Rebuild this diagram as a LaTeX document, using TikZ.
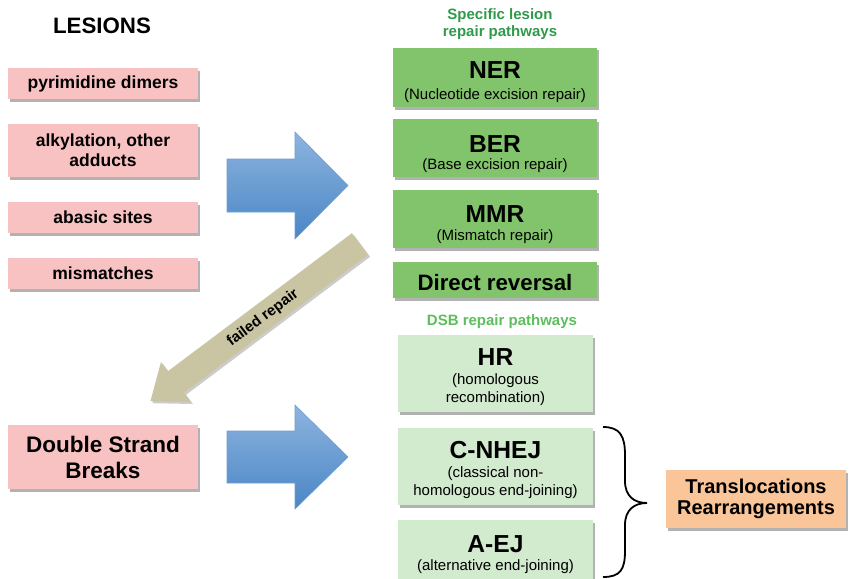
\documentclass[tikz,border=0pt]{standalone}
\usepackage{fontspec}
\setmainfont{Liberation Sans}
\usetikzlibrary{shadows}
\definecolor{lesionpink}{HTML}{F9C2C2}
\definecolor{specgreen}{HTML}{82C46B}
\definecolor{dsbgreen}{HTML}{D2EACE}
\definecolor{transorange}{HTML}{FBC59A}
\definecolor{failkhaki}{HTML}{C9C4A2}
\definecolor{spectext}{HTML}{2F9A4A}
\definecolor{dsbtext}{HTML}{5CBE5C}
\definecolor{arrowtop}{HTML}{8DB4DE}
\definecolor{arrowbot}{HTML}{4A86C6}
\definecolor{arrowedge}{HTML}{6E9FD2}
\begin{document}
\begin{tikzpicture}[x=1pt,y=-1pt,
 shadowed/.style={drop shadow={shadow xshift=2pt,shadow yshift=-2.5pt,opacity=0.3,fill=black}},
 lesion/.style={rectangle, fill=lesionpink, minimum width=190pt, inner sep=0pt, align=center,
   font=\fontsize{17.5}{20}\selectfont\bfseries, shadowed},
 specbox/.style={rectangle, fill=specgreen, minimum width=204pt, inner sep=0pt, shadowed},
 dsbbox/.style={rectangle, fill=dsbgreen, minimum width=195pt, inner sep=0pt, shadowed},
 boxtitle/.style={anchor=base, inner sep=0pt, font=\fontsize{24.6}{26}\selectfont\bfseries},
 boxsub/.style={anchor=base, inner sep=0pt, font=\fontsize{15}{18}\selectfont},
 headlabel/.style={font=\fontsize{15}{17}\selectfont\bfseries, align=center, inner sep=0pt},
 blockarrow/.style={top color=arrowtop, bottom color=arrowbot, draw=arrowedge, line width=0.6pt},
]
\useasboundingbox (0,0) rectangle (861,578);

% left column
\node[font=\fontsize{22.3}{24}\selectfont\bfseries] (les) at (102,26) {LESIONS};
\node[lesion, minimum height=31pt] (pyr) at (103,83.5) {pyrimidine dimers};
\node[lesion, minimum height=53pt] (alk) at (103,150.5) {alkylation, other\\adducts};
\node[lesion, minimum height=31pt] (aba) at (103,217.5) {abasic sites};
\node[lesion, minimum height=31pt] (mis) at (103,273.5) {mismatches};
\node[lesion, minimum height=64pt, font=\fontsize{22.5}{26}\selectfont\bfseries] (dsb) at (103,457) {Double Strand\\Breaks};

% specific lesion repair
\node[headlabel, text=spectext] (speclab) at (500,24.5) {Specific lesion\\repair pathways};
\node[specbox, minimum height=59pt] (ner) at (495,77.5) {};
\node[boxtitle] (nert) at (495,78) {NER};
\node[boxsub] (ners) at (495,99) {(Nucleotide excision repair)};
\node[specbox, minimum height=58pt] (ber) at (495,148) {};
\node[boxtitle] (bert) at (495,152) {BER};
\node[boxsub] (bers) at (495,169) {(Base excision repair)};
\node[specbox, minimum height=58pt] (mmr) at (495,219) {};
\node[boxtitle] (mmrt) at (495,222) {MMR};
\node[boxsub] (mmrs) at (495,240) {(Mismatch repair)};
\node[specbox, minimum height=36pt] (dr) at (495,280) {};
\node[boxtitle, font=\fontsize{22.3}{24}\selectfont\bfseries] (drt) at (495,290) {Direct reversal};

% DSB repair
\node[headlabel, text=dsbtext] (dsblab) at (502,322) {DSB repair pathways};
\node[dsbbox, minimum height=77pt] (hr) at (495.5,373.5) {};
\node[boxtitle] (hrt) at (495.5,365) {HR};
\node[boxsub] (hrs1) at (495.5,384) {(homologous};
\node[boxsub] (hrs2) at (495.5,402) {recombination)};
\node[dsbbox, minimum height=77pt] (cn) at (495.5,466.5) {};
\node[boxtitle] (cnt) at (495.5,458) {C-NHEJ};
\node[boxsub] (cns1) at (495.5,477) {(classical non-};
\node[boxsub] (cns2) at (495.5,495) {homologous end-joining)};
\node[dsbbox, minimum height=68pt] (aej) at (495.5,554) {};
\node[boxtitle] (aejt) at (495.5,552) {A-EJ};
\node[boxsub] (aejs) at (495.5,570) {(alternative end-joining)};

% outcome
\node[rectangle, fill=transorange, minimum width=180pt, minimum height=58pt, inner sep=0pt, align=center,
  font=\fontsize{20}{21}\selectfont\bfseries, shadowed] (tr) at (756,499) {Translocations\\Rearrangements};

% brace
\draw[line width=1.8pt] (603,427) .. controls (620,427) and (625,436) .. (625,455) -- (625,481)
  .. controls (625,496) and (634,503) .. (647,503)
  .. controls (634,503) and (625,510) .. (625,525) -- (625,551)
  .. controls (625,570) and (620,577) .. (603,577);

% blue block arrows
\draw[blockarrow] (227,159) -- (295,159) -- (295,132) -- (348,185.5) -- (295,239) -- (295,212) -- (227,212) -- cycle;
\draw[blockarrow] (227,431) -- (295,431) -- (295,405) -- (348,457) -- (295,509) -- (295,483) -- (227,483) -- cycle;

% failed repair arrow
\fill[failkhaki, drop shadow={shadow xshift=2pt,shadow yshift=-2pt,opacity=0.2,fill=black}]
  (351.9,233.2) -- (368.1,254.8) -- (184.1,392.8) -- (191,402) -- (150.4,401.2) -- (161,362) -- (167.9,371.2) -- cycle;
\node[rotate=37, font=\fontsize{15}{17}\selectfont\bfseries, inner sep=0pt] (fail) at (263,318) {failed repair};
\end{tikzpicture}
\end{document}
